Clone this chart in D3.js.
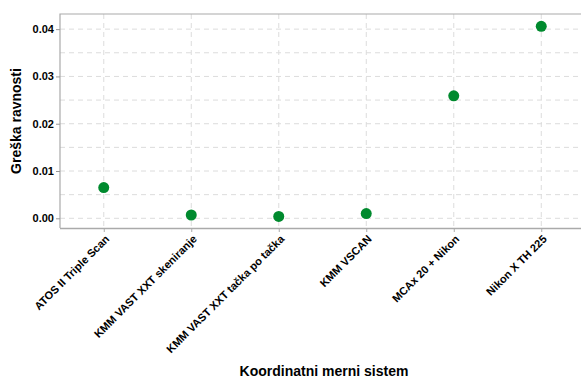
<!DOCTYPE html>
<html><head><meta charset="utf-8">
<script src="https://cdn.jsdelivr.net/npm/d3@7"></script>
<style>
body{margin:0;background:#fff;}
svg text{font-family:"Liberation Sans",Arial,sans-serif;font-weight:bold;fill:#000;}
</style></head>
<body><svg id="c" width="581" height="381"></svg>
<script>
const categories = ["ATOS II Triple Scan","KMM VAST XXT skeniranje","KMM VAST XXT tačka po tačka","KMM VSCAN","MCAx 20 + Nikon","Nikon X TH 225"];
const values = [0.0065, 0.0007, 0.0004, 0.001, 0.0259, 0.0406];
const yTicks = [0, 0.01, 0.02, 0.03, 0.04];
const yMinor = [0.005, 0.015, 0.025, 0.035];
const xTitle = "Koordinatni merni sistem";
const yTitle = "Greška ravnosti";

const svg = d3.select("#c");
const L = 60, T = 14, R = 585, B = 228;
const x = d3.scalePoint().domain(categories).range([L, R]).padding(0.5);
const y = d3.scaleLinear().domain([-0.00205, 0.0432]).range([B, T]);

const g = svg.append("g");
// grid
g.selectAll(".gy").data(yTicks.concat(yMinor)).join("line")
  .attr("x1", L).attr("x2", 581).attr("y1", d => y(d)).attr("y2", d => y(d))
  .attr("stroke", "#dcdcdc").attr("stroke-dasharray", "5,4");
g.selectAll(".gx").data(categories).join("line")
  .attr("x1", d => x(d)).attr("x2", d => x(d)).attr("y1", T).attr("y2", B)
  .attr("stroke", "#dcdcdc").attr("stroke-dasharray", "5,4");

// frame
g.append("path").attr("d", `M${L},${B}V${T}H581`).attr("fill","none").attr("stroke","#aaa").attr("stroke-width",1.2);

// axes
const yAxis = svg.append("g").attr("transform", `translate(${L},0)`)
  .call(d3.axisLeft(y).tickValues(yTicks).tickFormat(d3.format(".2f")).tickSize(4).tickPadding(2));
yAxis.select(".domain").remove();
yAxis.selectAll(".tick line").attr("stroke","#999");
yAxis.selectAll("text").style("font-size","11px").attr("fill","#000");

const xAxis = svg.append("g").attr("transform", `translate(0,${B})`)
  .call(d3.axisBottom(x).tickSize(4).tickPadding(2));
xAxis.select(".domain").attr("d", `M${L},0.5H581`).attr("stroke","#aaa").attr("stroke-width",1.5);
xAxis.selectAll(".tick line").attr("stroke","#aaa");
xAxis.selectAll("text").style("font-size","11px").attr("fill","#000")
  .attr("text-anchor","end").attr("dy","0.35em")
  .attr("transform","translate(3,9) rotate(-45)").attr("x",0).attr("y",0);

// points
svg.selectAll(".pt").data(categories).join("circle")
  .attr("cx", d => x(d)).attr("cy", (d,i) => y(values[i])).attr("r", 5.5)
  .attr("fill", "#008a2e");

// titles
svg.append("text").attr("x", 324).attr("y", 376).attr("text-anchor","middle")
  .style("font-size","14px").text(xTitle);
svg.append("text").attr("transform", `translate(21,${(T+B)/2}) rotate(-90)`)
  .attr("text-anchor","middle").style("font-size","14px").text(yTitle);
</script></body></html>
